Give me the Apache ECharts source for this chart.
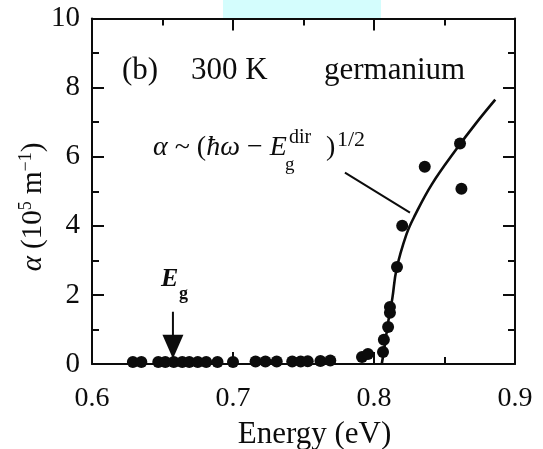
<!DOCTYPE html>
<html>
<head>
<meta charset="utf-8">
<script src="https://cdn.jsdelivr.net/npm/echarts@6/dist/echarts.min.js"></script>
<style>
  html, body { margin: 0; padding: 0; background: #ffffff; }
  #chart { width: 543px; height: 449px; }
</style>
</head>
<body>
<div id="chart"></div>
<script>
// Measured absorption of germanium at 300 K: photon energy (eV) and alpha (10^5 m^-1)
const dotEnergy = [
  0.629, 0.635, 0.647, 0.652, 0.658, 0.664, 0.669, 0.675, 0.681, 0.689,
  0.700, 0.716, 0.723, 0.731, 0.742, 0.748, 0.753, 0.762, 0.769,
  0.7915, 0.7957, 0.8064, 0.807, 0.810, 0.8113, 0.8113, 0.8163, 0.820,
  0.836, 0.861, 0.862
];
const dotAlpha = [
  0.06, 0.06, 0.06, 0.06, 0.06, 0.06, 0.06, 0.06, 0.06, 0.06,
  0.06, 0.07, 0.07, 0.07, 0.07, 0.07, 0.08, 0.09, 0.1,
  0.2, 0.29, 0.35, 0.7, 1.07, 1.48, 1.65, 2.81, 4.0,
  5.71, 6.38, 5.07
];

// Direct-gap square-root curve, as drawn
const fitEnergy = [0.8055, 0.8075, 0.810, 0.813, 0.816, 0.823, 0.829, 0.841, 0.859, 0.872, 0.886];
const fitAlpha  = [0.0,    0.5,    1.2,   1.9,   2.75,  3.75,  4.3,   5.2,   6.25,  6.95,  7.65];

// Leader line from the formula to the curve
const leaderEnergy = [0.7794, 0.8255];
const leaderAlpha  = [5.54, 4.38];

// Arrow marking the indirect gap E_g
const gapEnergy = 0.6574;
const gapArrowShaft = [1.51, 0.8];
const gapArrowHead = 0.5;

const xTickLabels = ['0.6', '0.7', '0.8', '0.9'];
const yTickLabels = ['0', '2', '4', '6', '8', '10'];

const SERIF = '"Liberation Serif", "DejaVu Serif", serif';
const INK = '#0c0c0c';

const chart = echarts.init(document.getElementById('chart'), null, { renderer: 'canvas' });

function pairs(xs, ys) { return xs.map((x, i) => [x, ys[i]]); }

const axisCommon = {
  type: 'value',
  axisLine: { show: true, onZero: false, lineStyle: { color: INK, width: 2 } },
  axisTick: { show: true, inside: true, length: 12, lineStyle: { color: INK, width: 2 } },
  minorTick: { show: true, splitNumber: 2, length: 7, lineStyle: { color: INK, width: 2 } },
  splitLine: { show: false },
  minorSplitLine: { show: false }
};

const option = {
  animation: false,
  backgroundColor: '#ffffff',
  grid: { left: 92, right: 28, top: 18.5, bottom: 85, containLabel: false, outerBoundsMode: 'none' },
  xAxis: [
    Object.assign({}, axisCommon, {
      min: 0.6, max: 0.9, interval: 0.1, position: 'bottom',
      axisLabel: {
        show: true, margin: 21, color: INK, fontFamily: SERIF, fontSize: 28,
        showMinLabel: true, showMaxLabel: true,
        formatter: v => xTickLabels[Math.round((v - 0.6) / 0.1)] || ''
      },
      name: 'Energy (eV)', nameLocation: 'middle', nameGap: 55,
      nameTextStyle: { color: INK, fontFamily: SERIF, fontSize: 31, padding: [0, 0, 0, 22] }
    }),
    Object.assign({}, axisCommon, {
      min: 0.6, max: 0.9, interval: 0.1, position: 'top',
      axisLabel: { show: false }
    })
  ],
  yAxis: [
    Object.assign({}, axisCommon, {
      min: 0, max: 10, interval: 2, position: 'left',
      axisLabel: {
        show: true, margin: 12, color: INK, fontFamily: SERIF, fontSize: 29,
        showMinLabel: true, showMaxLabel: true,
        formatter: v => yTickLabels[Math.round(v / 2)] || ''
      }
    }),
    Object.assign({}, axisCommon, {
      min: 0, max: 10, interval: 2, position: 'right',
      axisLabel: { show: false }
    })
  ],
  graphic: [
    { type: 'rect', left: 223, top: 0, shape: { width: 158, height: 18 }, style: { fill: '#d4fdfd' }, z: -1 },
    { type: 'text', x: 122, y: 71, style: { text: '(b)', fill: INK, font: '31px ' + SERIF, verticalAlign: 'middle' } },
    { type: 'text', x: 191, y: 71, style: { text: '300 K', fill: INK, font: '31px ' + SERIF, verticalAlign: 'middle' } },
    { type: 'text', x: 324, y: 71, style: { text: 'germanium', fill: INK, font: '31px ' + SERIF, verticalAlign: 'middle' } },
    // alpha ~ (hbar omega - E_g^dir)^(1/2)
    { type: 'text', x: 153, y: 148, style: {
        text: '{i|α} ~ ({i|ħω} − {i|E}', fill: INK, font: '28px ' + SERIF, verticalAlign: 'middle',
        rich: { i: { fontStyle: 'italic', fontFamily: SERIF, fontSize: 28, fill: INK } }
    } },
    { type: 'text', x: 285, y: 165, style: { text: 'g', fill: INK, font: '19px ' + SERIF, verticalAlign: 'middle' } },
    { type: 'text', x: 289, y: 138, style: { text: 'dir', fill: INK, font: '20px ' + SERIF, verticalAlign: 'middle' } },
    { type: 'text', x: 326, y: 148, style: { text: ')', fill: INK, font: '28px ' + SERIF, verticalAlign: 'middle' } },
    { type: 'text', x: 337, y: 140, style: { text: '1/2', fill: INK, font: '22px ' + SERIF, verticalAlign: 'middle' } },
    // E_g label over the arrow
    { type: 'text', x: 161, y: 279, style: { text: 'E', fill: INK, font: 'italic bold 26px ' + SERIF, verticalAlign: 'middle' } },
    { type: 'text', x: 179, y: 294, style: { text: 'g', fill: INK, font: 'bold 18px ' + SERIF, verticalAlign: 'middle' } },
    // y-axis title
    { type: 'text', x: 33, y: 207, rotation: Math.PI / 2, style: {
        text: '{i|α} (10{s|5} m{s|−1})', fill: INK, font: '29px ' + SERIF,
        align: 'center', verticalAlign: 'middle',
        rich: {
          i: { fontStyle: 'italic', fontFamily: SERIF, fontSize: 29, fill: INK, lineHeight: 32 },
          s: { fontFamily: SERIF, fontSize: 18, fill: INK, verticalAlign: 'top', lineHeight: 32 }
        }
    } }
  ],
  series: [
    {
      type: 'line', name: 'fit', xAxisIndex: 0, yAxisIndex: 0,
      data: pairs(fitEnergy, fitAlpha), smooth: 0.4, showSymbol: false, symbol: 'none',
      lineStyle: { color: INK, width: 2.6 }, z: 3
    },
    {
      type: 'line', name: 'leader', xAxisIndex: 0, yAxisIndex: 0,
      data: pairs(leaderEnergy, leaderAlpha), showSymbol: false, symbol: 'none',
      lineStyle: { color: INK, width: 2 }, z: 3
    },
    {
      type: 'line', name: 'gap arrow', xAxisIndex: 0, yAxisIndex: 0,
      data: gapArrowShaft.map(a => [gapEnergy, a]), showSymbol: false, symbol: 'none',
      lineStyle: { color: INK, width: 2 }, z: 3
    },
    {
      type: 'scatter', name: 'gap arrow head', xAxisIndex: 0, yAxisIndex: 0,
      data: [[gapEnergy, gapArrowHead]], symbol: 'triangle', symbolRotate: 180, symbolSize: [21, 24],
      itemStyle: { color: INK, opacity: 1 }, z: 4
    },
    {
      type: 'scatter', name: 'measured', xAxisIndex: 0, yAxisIndex: 0,
      data: pairs(dotEnergy, dotAlpha), symbol: 'circle', symbolSize: 12,
      itemStyle: { color: INK, opacity: 1 }, z: 5
    }
  ]
};

chart.setOption(option);
</script>
</body>
</html>
